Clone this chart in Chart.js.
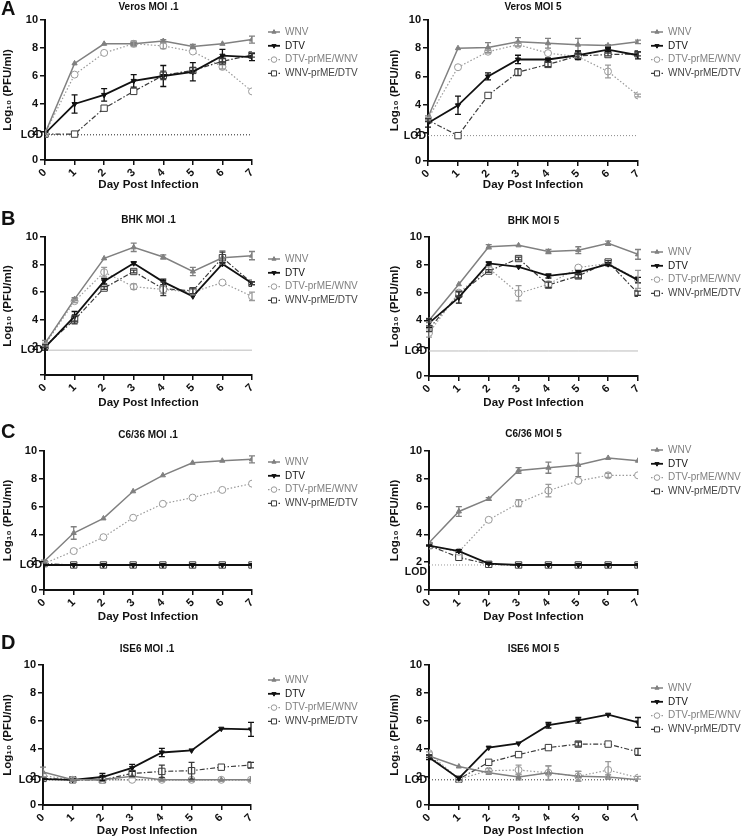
<!DOCTYPE html>
<html>
<head>
<meta charset="utf-8">
<script src="https://cdn.jsdelivr.net/npm/chart.js@4.4.1/dist/chart.umd.min.js"></script>
<style>
  body { margin: 0; background: #fff; }
  #wrap { position: relative; width: 741px; height: 839px; }
  canvas { position: absolute; }
</style>
</head>
<body>
<div id="wrap">
  <canvas id="c0" width="370" height="210" style="left:0;top:0"></canvas>
  <canvas id="c1" width="371" height="210" style="left:370px;top:0"></canvas>
  <canvas id="c2" width="370" height="210" style="left:0;top:210px"></canvas>
  <canvas id="c3" width="371" height="210" style="left:370px;top:210px"></canvas>
  <canvas id="c4" width="370" height="210" style="left:0;top:420px"></canvas>
  <canvas id="c5" width="371" height="210" style="left:370px;top:420px"></canvas>
  <canvas id="c6" width="370" height="209" style="left:0;top:630px"></canvas>
  <canvas id="c7" width="371" height="209" style="left:370px;top:630px"></canvas>
</div>
<script>
// Shared data
const days = [0, 1, 2, 3, 4, 5, 6, 7];
const lod = 1.8;
const seriesNames = ['WNV', 'DTV', 'DTV-prME/WNV', 'WNV-prME/DTV'];
const panelTitles = ['Veros MOI .1', 'Veros MOI 5', 'BHK MOI .1', 'BHK MOI 5',
                     'C6/36 MOI .1', 'C6/36 MOI 5', 'ISE6 MOI .1', 'ISE6 MOI 5'];

// Means (log10 PFU/ml), one row per series: WNV, DTV, DTV-prME/WNV, WNV-prME/DTV
const verosLowMean = [
  [1.9, 6.9, 8.3, 8.3, 8.5, 8.1, 8.3, 8.6],
  [1.9, 4.0, 4.65, 5.65, 6.0, 6.3, 7.45, 7.35],
  [1.9, 6.1, 7.65, 8.3, 8.15, 7.75, 6.65, 4.9],
  [1.85, 1.85, 3.7, 4.9, 6.05, 6.4, 7.05, 7.5]
];
const verosLowSem = [
  [0, 0, 0, 0.1, 0.1, 0.15, 0, 0.25],
  [0, 0.65, 0.45, 0.45, 0.75, 0.65, 0.45, 0.25],
  [0, 0, 0, 0.2, 0.2, 0, 0.15, 0],
  [0, 0, 0, 0, 0.3, 0.2, 0.2, 0.15]
];
const verosHighMean = [
  [3.1, 8.0, 8.05, 8.45, 8.35, 8.25, 8.2, 8.45],
  [2.7, 3.95, 6.0, 7.2, 7.2, 7.5, 7.9, 7.5],
  [3.0, 6.65, 7.75, 8.25, 7.65, 7.4, 6.35, 4.65],
  [2.9, 1.8, 4.65, 6.3, 6.85, 7.45, 7.55, 7.6]
];
const verosHighSem = [
  [0.1, 0, 0.35, 0.3, 0.35, 0.45, 0.05, 0.12],
  [0.3, 0.65, 0.25, 0.3, 0.1, 0.3, 0.15, 0.25],
  [0.1, 0, 0.1, 0.1, 0, 0.1, 0.45, 0.1],
  [0.1, 0, 0, 0.25, 0.15, 0.15, 0.1, 0.15]
];
const bhkLowMean = [
  [2.3, 5.5, 8.45, 9.25, 8.55, 7.5, 8.5, 8.65],
  [2.0, 4.25, 6.8, 8.1, 6.75, 5.7, 8.05, 6.65],
  [2.2, 5.35, 7.45, 6.4, 6.2, 6.0, 6.7, 5.7],
  [2.1, 4.0, 6.3, 7.5, 6.25, 6.1, 8.5, 6.65]
];
const bhkLowSem = [
  [0.2, 0.1, 0, 0.3, 0.15, 0.3, 0.5, 0.3],
  [0.2, 0.35, 0.2, 0.1, 0.2, 0, 0.1, 0.1],
  [0.1, 0.1, 0.35, 0.2, 0.3, 0.2, 0, 0.3],
  [0.1, 0.3, 0.1, 0.1, 0.5, 0.2, 0.4, 0.1]
];
const bhkHighMean = [
  [4.0, 6.6, 9.3, 9.4, 8.95, 9.05, 9.55, 8.75],
  [3.8, 5.65, 8.1, 7.85, 7.2, 7.45, 8.05, 6.9],
  [3.1, 6.0, 7.75, 5.95, 6.6, 7.8, 8.1, 6.95],
  [3.4, 5.9, 7.55, 8.45, 6.55, 7.2, 8.2, 5.95]
];
const bhkHighSem = [
  [0.15, 0, 0.15, 0, 0.15, 0.25, 0.15, 0.35],
  [0.3, 0.4, 0.1, 0, 0.15, 0.15, 0.1, 0.2],
  [0.3, 0, 0.1, 0.55, 0.2, 0, 0, 0.65],
  [0.2, 0.2, 0.1, 0.1, 0.2, 0.15, 0.1, 0.15]
];
const c636LowMean = [
  [2.05, 4.1, 5.15, 7.1, 8.25, 9.15, 9.3, 9.4],
  [1.8, 1.8, 1.8, 1.8, 1.8, 1.8, 1.8, 1.8],
  [1.9, 2.8, 3.8, 5.2, 6.2, 6.65, 7.2, 7.65],
  [1.9, 1.8, 1.8, 1.8, 1.8, 1.8, 1.8, 1.8]
];
const c636LowSem = [
  [0.1, 0.45, 0, 0, 0, 0, 0, 0.25],
  [0, 0, 0, 0, 0, 0, 0, 0],
  [0, 0, 0, 0, 0, 0, 0, 0],
  [0, 0, 0, 0, 0, 0, 0, 0]
];
const c636HighMean = [
  [3.4, 5.65, 6.55, 8.6, 8.8, 9.0, 9.5, 9.3],
  [3.2, 2.8, 1.9, 1.8, 1.8, 1.8, 1.8, 1.8],
  [3.2, 2.75, 5.05, 6.25, 7.15, 7.85, 8.25, 8.25],
  [3.2, 2.35, 1.85, 1.8, 1.8, 1.8, 1.8, 1.8]
];
const c636HighSem = [
  [0, 0.35, 0.1, 0.2, 0.4, 0.85, 0, 0],
  [0.05, 0.1, 0.05, 0, 0, 0, 0, 0],
  [0, 0, 0, 0.25, 0.45, 0, 0.15, 0],
  [0, 0, 0, 0, 0, 0, 0, 0]
];
const ise6LowMean = [
  [2.35, 1.8, 1.8, 2.05, 1.8, 1.8, 1.8, 1.8],
  [1.85, 1.8, 2.0, 2.65, 3.75, 3.9, 5.45, 5.4],
  [2.1, 1.8, 1.8, 1.8, 1.8, 1.8, 1.8, 1.8],
  [1.9, 1.8, 1.8, 2.25, 2.4, 2.45, 2.7, 2.85]
];
const ise6LowSem = [
  [0.35, 0, 0, 0, 0, 0, 0, 0],
  [0, 0, 0.25, 0.25, 0.3, 0, 0, 0.5],
  [0, 0, 0, 0, 0, 0, 0, 0],
  [0, 0, 0, 0.2, 0.45, 0.6, 0, 0.2]
];
const ise6HighMean = [
  [3.5, 2.75, 2.3, 2.0, 2.3, 2.05, 2.0, 1.8],
  [3.4, 1.9, 4.1, 4.4, 5.7, 6.05, 6.45, 5.9],
  [3.7, 1.85, 2.45, 2.5, 2.3, 2.05, 2.5, 1.95],
  [3.5, 1.85, 3.05, 3.6, 4.1, 4.35, 4.35, 3.8]
];
const ise6HighSem = [
  [0.1, 0, 0.1, 0.2, 0.5, 0.35, 0.15, 0],
  [0.15, 0.1, 0, 0, 0.2, 0.2, 0, 0.35],
  [0.1, 0, 0.15, 0.35, 0.5, 0.35, 0.6, 0.1],
  [0.1, 0, 0, 0, 0, 0.15, 0, 0.25]
];

Chart.defaults.font.family = '"Liberation Sans", Arial, Helvetica, sans-serif';
Chart.defaults.color = '#111';

// line / marker look for each series
const styles = [
  { color: '#808080', width: 1.5, dash: [], point: 'triangle', rot: 0, r: 3, fill: '#808080' },
  { color: '#111111', width: 1.8, dash: [], point: 'triangle', rot: 180, r: 3, fill: '#111111' },
  { color: '#9a9a9a', width: 1.2, dash: [1.5, 2], point: 'circle', rot: 0, r: 3.5, fill: '#ffffff' },
  { color: '#3a3a3a', width: 1.2, dash: [5, 2, 1.5, 2], point: 'rect', rot: 0, r: 4.5, fill: '#ffffff' }
];
const legendText = ['#808080', '#111111', '#808080', '#444444'];

// panel layout (canvas-local pixels)
const panels = [
  { id: 'c0', mean: verosLowMean, sem: verosLowSem, letter: 'A', letterY: 9, area: { l: 45, t: 20, r: 252, b: 160 }, titleY: 7, legX: 268, legY: 32, yPad: 1, xTitleY: 185, lodColor: '#222', lodDash: [1, 2] },
  { id: 'c1', mean: verosHighMean, sem: verosHighSem, area: { l: 58, t: 20, r: 268, b: 161 }, titleY: 7, legX: 281, legY: 32, yPad: 18, xTitleY: 185, lodColor: '#888', lodDash: [1, 2] },
  { id: 'c2', mean: bhkLowMean, sem: bhkLowSem, letter: 'B', letterY: 9, hideZero: true, area: { l: 45, t: 27, r: 252, b: 165 }, titleY: 10, legX: 268, legY: 49, yPad: 1, xTitleY: 193, lodColor: '#bbb', lodDash: [] },
  { id: 'c3', mean: bhkHighMean, sem: bhkHighSem, area: { l: 59, t: 27, r: 268, b: 166 }, titleY: 11, legX: 281, legY: 42, yPad: 18, xTitleY: 193, lodColor: '#bbb', lodDash: [] },
  { id: 'c4', mean: c636LowMean, sem: c636LowSem, letter: 'C', letterY: 12, area: { l: 44, t: 31, r: 252, b: 170 }, titleY: 15, legX: 268, legY: 42, yPad: 1, xTitleY: 197, lodColor: '#222', lodDash: [1, 2] },
  { id: 'c5', mean: c636HighMean, sem: c636HighSem, area: { l: 59, t: 31, r: 268, b: 170 }, titleY: 14, legX: 281, legY: 30, yPad: 18, xTitleY: 197, lodColor: '#999', lodDash: [1, 2], lodDy: 7 },
  { id: 'c6', mean: ise6LowMean, sem: ise6LowSem, letter: 'D', letterY: 13, area: { l: 43, t: 35, r: 251, b: 175 }, titleY: 19, legX: 268, legY: 50, yPad: 1, xTitleY: 201, lodColor: '#333', lodDash: [1, 2] },
  { id: 'c7', mean: ise6HighMean, sem: ise6HighSem, area: { l: 59, t: 35, r: 268, b: 175 }, titleY: 19, legX: 281, legY: 58, yPad: 18, xTitleY: 201, lodColor: '#333', lodDash: [1, 2] }
];

// vertical SEM bars with caps
const errorBars = {
  id: 'errorBars',
  afterDatasetsDraw(chart) {
    const ctx = chart.ctx;
    const yScale = chart.scales.y;
    chart.data.datasets.forEach((ds, i) => {
      if (!ds.sem) return;
      const meta = chart.getDatasetMeta(i);
      ctx.save();
      ctx.strokeStyle = ds.borderColor;
      ctx.lineWidth = 1.3;
      meta.data.forEach((pt, j) => {
        const e = ds.sem[j];
        if (!e) return;
        const v = ds.data[j].y;
        const top = yScale.getPixelForValue(v + e);
        const bot = yScale.getPixelForValue(v - e);
        ctx.beginPath();
        ctx.moveTo(pt.x, top); ctx.lineTo(pt.x, bot);
        ctx.moveTo(pt.x - 3, top); ctx.lineTo(pt.x + 3, top);
        ctx.moveTo(pt.x - 3, bot); ctx.lineTo(pt.x + 3, bot);
        ctx.stroke();
      });
      ctx.restore();
    });
  }
};

// title, panel letter, LOD label and legend
const panelDeco = {
  id: 'panelDeco',
  afterDraw(chart, args, opts) {
    const ctx = chart.ctx;
    const ca = chart.chartArea;
    ctx.save();
    ctx.fillStyle = '#111';
    ctx.textBaseline = 'middle';

    ctx.font = 'bold 10px "Liberation Sans", Arial';
    ctx.textAlign = 'center';
    ctx.fillText(opts.title, (ca.left + ca.right) / 2, opts.titleY);

    if (opts.letter) {
      ctx.font = 'bold 20px "Liberation Sans", Arial';
      ctx.textAlign = 'left';
      ctx.fillText(opts.letter, 1, opts.letterY);
    }

    ctx.font = 'bold 10.5px "Liberation Sans", Arial';
    ctx.textAlign = 'right';
    ctx.fillText('LOD', ca.left - 2, chart.scales.y.getPixelForValue(lod) + (opts.lodDy || 0));

    ctx.font = '10px "Liberation Sans", Arial';
    ctx.textAlign = 'left';
    chart.data.datasets.forEach((ds, i) => {
      if (!ds.sem) return;
      const y = opts.legY + i * 13.8;
      const x = opts.legX;
      ctx.save();
      ctx.strokeStyle = ds.borderColor;
      ctx.lineWidth = ds.borderWidth;
      ctx.setLineDash(ds.borderDash || []);
      ctx.beginPath();
      ctx.moveTo(x, y); ctx.lineTo(x + 12, y);
      ctx.stroke();
      ctx.setLineDash([]);
      ctx.fillStyle = ds.pointBackgroundColor;
      ctx.lineWidth = 1;
      Chart.helpers.drawPoint(ctx, {
        pointStyle: ds.pointStyle, rotation: ds.pointRotation || 0,
        radius: ds.pointRadius * 0.8, borderWidth: 1
      }, x + 6, y);
      ctx.restore();
      ctx.fillStyle = legendText[i];
      ctx.fillText(ds.label, x + 17, y);
    });
    ctx.restore();
  }
};

panels.forEach((p, k) => {
  const canvas = document.getElementById(p.id);
  const W = canvas.width, H = canvas.height;

  const datasets = p.mean.map((vals, i) => ({
    label: seriesNames[i],
    data: days.map((d, j) => ({ x: d, y: vals[j] })),
    sem: p.sem[i],
    borderColor: styles[i].color,
    borderWidth: styles[i].width,
    borderDash: styles[i].dash,
    pointStyle: styles[i].point,
    pointRotation: styles[i].rot,
    pointRadius: styles[i].r,
    pointBorderWidth: 1,
    pointBorderColor: styles[i].color,
    pointBackgroundColor: styles[i].fill,
    backgroundColor: styles[i].fill,
    tension: 0,
    fill: false
  }));
  datasets.push({
    label: 'LOD',
    data: days.map(d => ({ x: d, y: lod })),
    borderColor: p.lodColor,
    borderWidth: 1,
    borderDash: p.lodDash,
    pointRadius: 0,
    fill: false,
    order: 10
  });

  new Chart(canvas, {
    type: 'line',
    data: { datasets: datasets },
    options: {
      responsive: false,
      animation: false,
      layout: { padding: { left: 0, top: p.area.t, right: W - p.area.r, bottom: 0 } },
      scales: {
        x: {
          type: 'linear',
          min: 0,
          max: 7,
          afterFit: s => { s.height = H - p.area.b; },
          ticks: {
            stepSize: 1,
            autoSkip: false,
            minRotation: 45,
            maxRotation: 45,
            padding: 1,
            color: '#111',
            font: { size: 11, weight: 'bold' }
          },
          grid: { display: true, drawOnChartArea: false, drawTicks: true, tickLength: 5, color: '#111', lineWidth: 1.5 },
          border: { display: true, color: '#111', width: 2 },
          title: {
            display: true,
            text: 'Day Post Infection',
            color: '#111',
            font: { size: 11.5, weight: 'bold' },
            padding: { top: 0, bottom: H - p.xTitleY - 7 }
          }
        },
        y: {
          min: 0,
          max: 10,
          afterFit: s => { s.width = p.area.l; },
          ticks: {
            stepSize: 2,
            padding: 2,
            color: '#111',
            font: { size: 11, weight: 'bold' },
            callback: v => (p.hideZero && v === 0) ? '' : v
          },
          grid: { display: true, drawOnChartArea: false, drawTicks: true, tickLength: 5, color: '#111', lineWidth: 1.5 },
          border: { display: true, color: '#111', width: 2 },
          title: {
            display: true,
            text: 'Log\u2081\u2080 (PFU/ml)',
            color: '#111',
            font: { size: 11.5, weight: 'bold' },
            padding: { top: p.yPad, bottom: 0 }
          }
        }
      },
      plugins: {
        legend: { display: false },
        tooltip: { enabled: false },
        panelDeco: {
          title: panelTitles[k],
          titleY: p.titleY,
          letter: p.letter || '',
          letterY: p.letterY || 0,
          legX: p.legX,
          legY: p.legY,
          lodDy: p.lodDy || 0
        }
      }
    },
    plugins: [errorBars, panelDeco]
  });
});
</script>
</body>
</html>
